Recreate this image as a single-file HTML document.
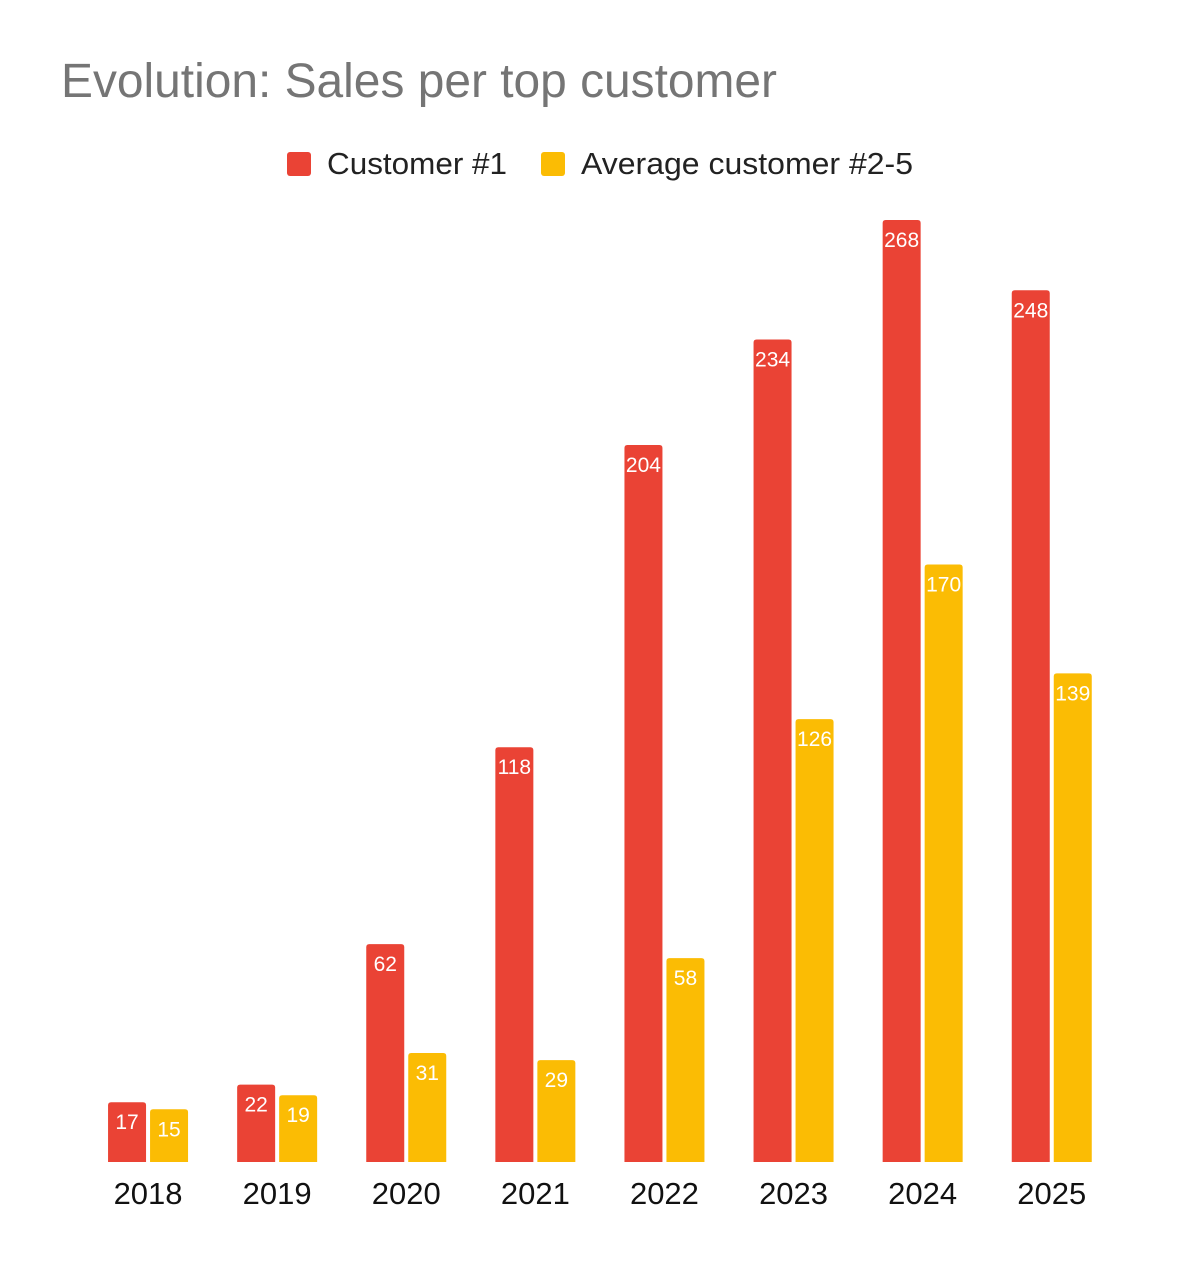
<!DOCTYPE html>
<html><head><meta charset="utf-8"><style>
body{margin:0;background:#fff;width:1200px;height:1270px;overflow:hidden;font-family:"Liberation Sans",Arial,sans-serif}
</style></head><body>
<svg id="chart" width="1200" height="1270" xmlns="http://www.w3.org/2000/svg">
<text x="61" y="97" font-size="48" textLength="716" lengthAdjust="spacingAndGlyphs" fill="#757575" font-family="Liberation Sans, Arial, sans-serif">Evolution: Sales per top customer</text>
<g>
<rect x="287" y="152" width="24" height="24" rx="3" fill="#EA4335"/>
<text x="327" y="174" font-size="31" textLength="180" lengthAdjust="spacingAndGlyphs" fill="#222">Customer #1</text>
<rect x="541" y="152" width="24" height="24" rx="3" fill="#FBBC04"/>
<text x="581" y="174" font-size="31" textLength="332" lengthAdjust="spacingAndGlyphs" fill="#222">Average customer #2-5</text>
</g>
<g id="bars"></g>
</svg>
<script>
const categories=["2018","2019","2020","2021","2022","2023","2024","2025"];
const customer1=[17,22,62,118,204,234,268,248];
const average25=[15,19,31,29,58,126,170,139];
const seriesNames=["customer-1","average-customer-2-5"];
const colors=["#EA4335","#FBBC04"];
const baseY=1162, pxPerUnit=942/268, left=83.5, band=129.1, barW=38, gap=4;
function y(v){return baseY-v*pxPerUnit;}
function xc(i){return left+band*(i+0.5);}
const g=document.getElementById('bars');
const NS="http://www.w3.org/2000/svg";
[customer1,average25].forEach((ser,s)=>{
  ser.forEach((v,i)=>{
    const x=xc(i)+(s===0?-(barW+gap/2):gap/2);
    const top=y(v), r=3;
    const p=document.createElementNS(NS,'path');
    p.setAttribute('d',`M${x},${baseY}V${top+r}Q${x},${top} ${x+r},${top}H${x+barW-r}Q${x+barW},${top} ${x+barW},${top+r}V${baseY}Z`);
    p.setAttribute('fill',colors[s]);
    
    
    g.appendChild(p);
    const t=document.createElementNS(NS,'text');
    t.setAttribute('x',x+barW/2);t.setAttribute('y',top+27);
    t.setAttribute('text-anchor','middle');t.setAttribute('font-size','21');
    t.setAttribute('fill','#fff');t.setAttribute('stroke',colors[s]);t.setAttribute('stroke-width','3');
    t.setAttribute('paint-order','stroke');
    t.textContent=v;
    
    
    g.appendChild(t);
  });
});
categories.forEach((c,i)=>{
  const t=document.createElementNS(NS,'text');
  t.setAttribute('x',xc(i));t.setAttribute('y',1204);
  t.setAttribute('text-anchor','middle');t.setAttribute('font-size','31');t.setAttribute('fill','#111');
  t.textContent=c;
  
  
  g.appendChild(t);
});
</script>
</body></html>
